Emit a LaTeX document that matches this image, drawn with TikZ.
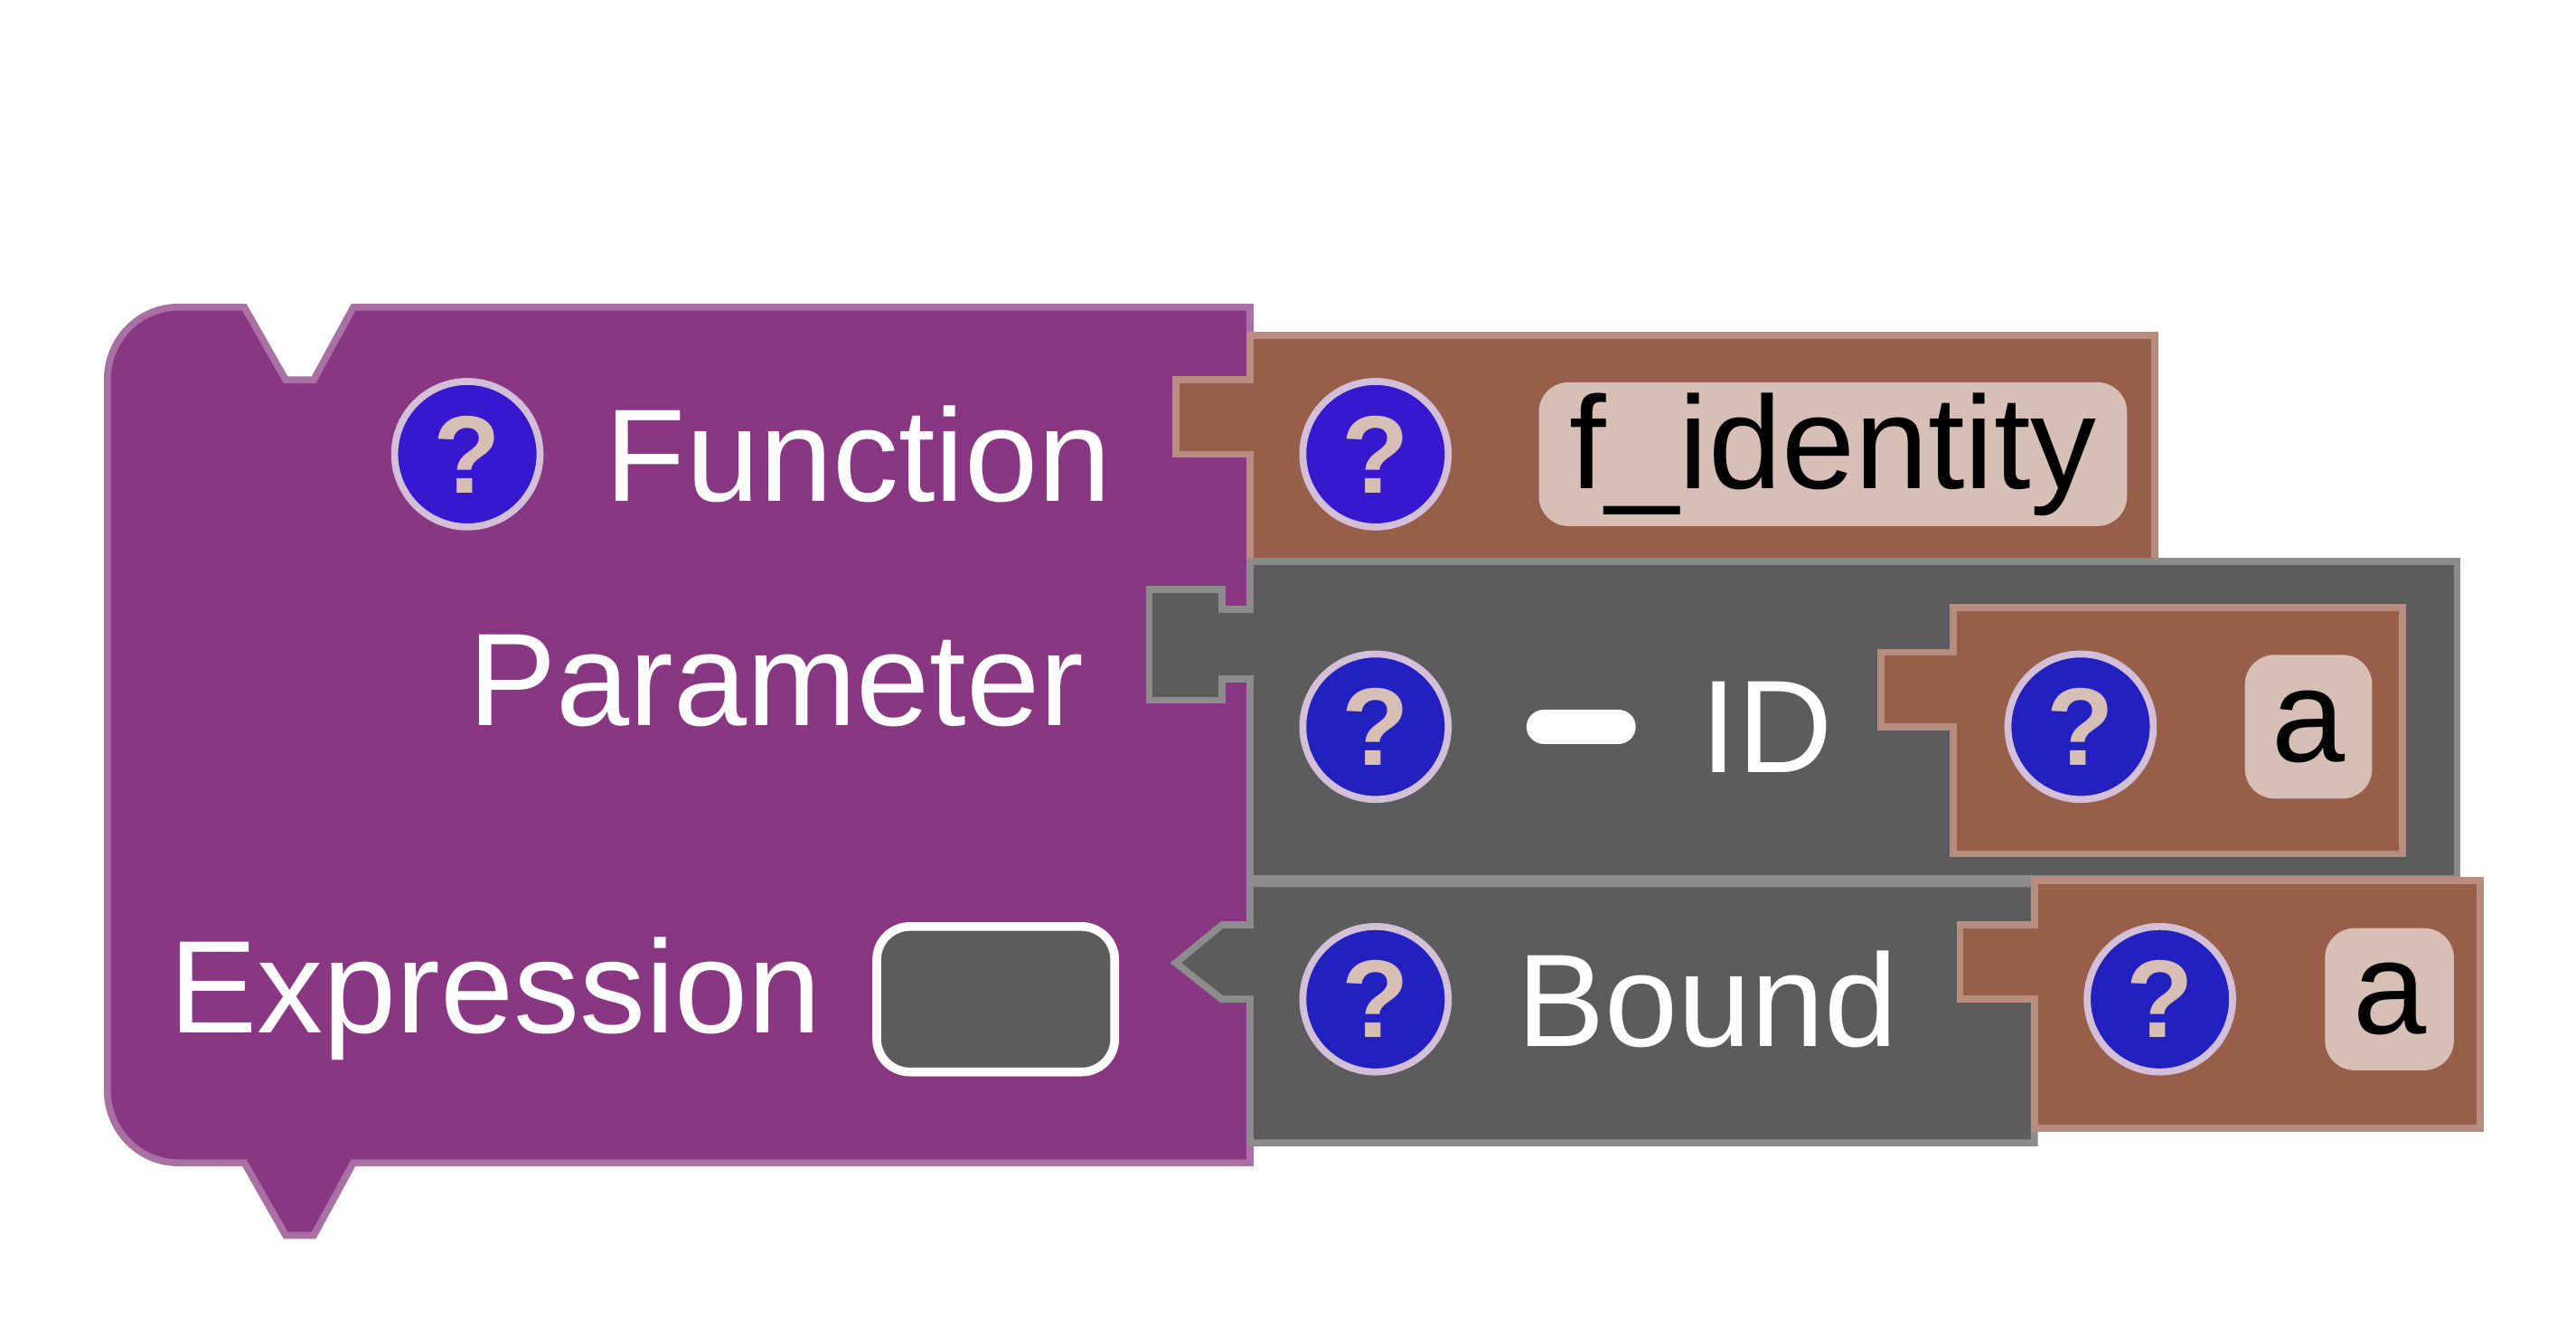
\documentclass[tikz,border=0pt]{standalone}
\usepackage{fontspec}
\setmainfont{Liberation Sans}
\usetikzlibrary{positioning}
\definecolor{funpurple}{HTML}{8A3783}
\definecolor{funedge}{HTML}{A870A3}
\definecolor{valbrown}{HTML}{975E4A}
\definecolor{valedge}{HTML}{B88C7F}
\definecolor{exprgrey}{HTML}{5C5C5C}
\definecolor{expredge}{HTML}{8C8C8C}
\definecolor{helpblue}{HTML}{3618CE}
\definecolor{helpdeep}{HTML}{2320C0}
\definecolor{helpring}{HTML}{D4BFD8}
\definecolor{fieldbg}{HTML}{D7BFB6}

\begin{document}
\begin{tikzpicture}[x=0.01cm,y=-0.01cm, line join=miter,
	help/.style={circle, draw=helpring, fill=helpblue, line width=1.2pt, minimum size=0.88cm, inner sep=0pt,
		text=fieldbg, font=\fontsize{19}{22}\selectfont\bfseries},
	lbl/.style={text=white, font=\fontsize{22.7}{26}\selectfont, inner sep=0pt},
	field/.style={fill=fieldbg, rounded corners=0.18cm, font=\fontsize{22.7}{26}\selectfont, inner sep=0pt}]
	\useasboundingbox (0,0) rectangle (1560,810);

	% function block
	\draw [fill=funpurple, draw=funedge, line width=1.2pt]
		(65,230) to[out=90,in=180] (108,186) -- (148,186) -- (173,230) -- (190,230) -- (214,186) -- (757,186)
		-- (757,704) -- (214,704) -- (190,748) -- (173,748) -- (148,704) -- (108,704)
		to[out=180,in=-90] (65,660) -- cycle;

	% name value
	\draw [fill=valbrown, draw=valedge, line width=1.2pt]
		(757,203) -- (1305,203) -- (1305,340) -- (757,340) -- (757,275) -- (712,275) -- (712,230) -- (757,230) -- cycle;

	% parameter block
	\draw [fill=exprgrey, draw=expredge, line width=1.2pt]
		(757,340) -- (1488,340) -- (1488,532) -- (757,532) -- (757,411) -- (740,411) -- (740,424) -- (696,424)
		-- (696,357) -- (740,357) -- (740,369) -- (757,369) -- cycle;
	\draw [fill=valbrown, draw=valedge, line width=1.2pt]
		(1183,368) -- (1455,368) -- (1455,517) -- (1183,517) -- (1183,440) -- (1139,440) -- (1139,395) -- (1183,395) -- cycle;

	% bound block
	\draw [fill=exprgrey, draw=expredge, line width=1.2pt]
		(757,535) -- (1232,535) -- (1232,692) -- (757,692) -- (757,605) -- (740,605) -- (712,583) -- (740,560) -- (757,560) -- cycle;
	\draw [fill=valbrown, draw=valedge, line width=1.2pt]
		(1232,533) -- (1502,533) -- (1502,683) -- (1232,683) -- (1232,605) -- (1187,605) -- (1187,560) -- (1232,560) -- cycle;

	% labels
	\node [help] (qfun) at (283,275) {?};
	\node [lbl, anchor=west] (fun) at (366,275) {Function};
	\node [lbl, anchor=east] (par) at (657,412) {Parameter};
	\node [lbl, anchor=west] (expr) at (102,605) {Expression};
	\node [draw=white, fill=exprgrey, line width=1.5pt, rounded corners=0.2cm, minimum width=1.44cm, minimum height=0.88cm] (slot) at (603,605) {};

	\node [help] (qname) at (833,275) {?};
	\node [field, minimum width=3.56cm, minimum height=0.87cm] (name) at (1110,275) {f\_identity};

	\node [help, fill=helpdeep] (qpar) at (833,440) {?};
	\draw [white, line width=6pt, line cap=round] (935,440) -- (980,440);
	\node [lbl] (id) at (1070,440) {ID};
	\node [help, fill=helpdeep] (qa) at (1260,440) {?};
	\node [field, minimum width=0.77cm, minimum height=0.87cm] (va) at (1398,440) {a};

	\node [help, fill=helpdeep] (qbound) at (833,605) {?};
	\node [lbl, anchor=west] (bound) at (918,605) {Bound};
	\node [help, fill=helpdeep] (qb) at (1308,605) {?};
	\node [field, minimum width=0.78cm, minimum height=0.86cm] (vb) at (1447,605) {a};
\end{tikzpicture}
\end{document}
